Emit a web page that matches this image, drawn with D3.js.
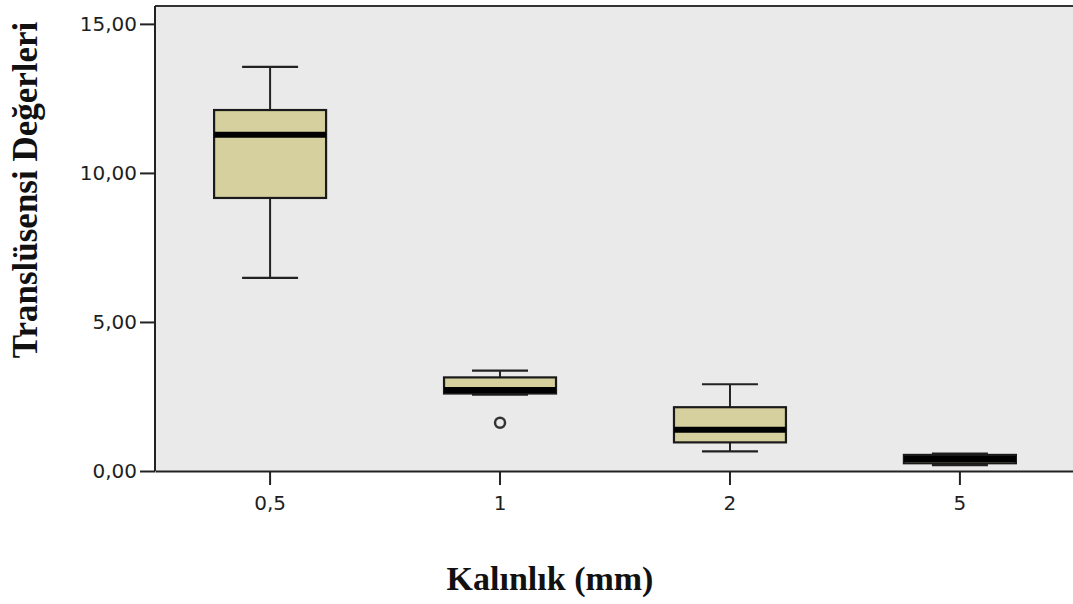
<!DOCTYPE html>
<html lang="tr">
<head>
    <meta charset="UTF-8">
    <title>Kalınlık - Translüsensi</title>
    <style>
        body {
            margin: 0;
            background-color: #ffffff;
            overflow: hidden;
        }
        svg {
            display: block;
        }
        .tick text {
            font-family: "DejaVu Sans", sans-serif;
            font-size: 20px;
            fill: #1e1e1e;
        }
        .axis-title {
            font-family: "Times New Roman", "Liberation Serif", serif;
            font-weight: bold;
            font-size: 34px;
            fill: #111;
        }
    </style>
</head>
<body>
    <svg id="chart" width="1073" height="604"></svg>

    <script src="https://d3js.org/d3.v7.min.js"></script>
    <script>
        // values
        const categories = ["0,5", "1", "2", "5"];
        const whiskerLow = [6.48, 2.56, 0.66, 0.20];
        const q1 = [9.16, 2.60, 0.96, 0.26];
        const median = [11.28, 2.72, 1.38, 0.40];
        const q3 = [12.11, 3.14, 2.14, 0.54];
        const whiskerHigh = [13.56, 3.37, 2.91, 0.58];
        const outliers = [[], [1.62], [], []];
        const yTicks = [0, 5, 10, 15];

        const margin = { top: 6, right: -2, bottom: 133, left: 155 },
              width = 1073 - margin.left - margin.right,
              height = 604 - margin.top - margin.bottom;

        const svg = d3.select("#chart")
            .append("g")
            .attr("transform", `translate(${margin.left},${margin.top})`);

        const x = d3.scaleBand()
            .domain(categories)
            .range([0, width])
            .paddingInner(0.513)
            .paddingOuter(0.257);

        const y = d3.scaleLinear()
            .domain([0, 15.6])
            .range([height, 0]);

        // plot background
        svg.append("rect")
            .attr("width", width)
            .attr("height", height)
            .attr("fill", "#eaeaea");

        // top frame line
        svg.append("line")
            .attr("x1", 0).attr("x2", width)
            .attr("y1", 0).attr("y2", 0)
            .attr("stroke", "#333")
            .attr("stroke-width", 2);

        const boxes = categories.map((c, i) => ({
            cat: c, lo: whiskerLow[i], q1: q1[i], med: median[i], q3: q3[i], hi: whiskerHigh[i], out: outliers[i]
        }));

        const g = svg.selectAll(".box")
            .data(boxes)
            .enter().append("g")
            .attr("class", "box");

        const cx = d => x(d.cat) + x.bandwidth() / 2;
        const capW = x.bandwidth() / 4;

        // whisker stems
        g.append("line")
            .attr("x1", cx).attr("x2", cx)
            .attr("y1", d => y(d.hi)).attr("y2", d => y(d.q3))
            .attr("stroke", "#222").attr("stroke-width", 2);
        g.append("line")
            .attr("x1", cx).attr("x2", cx)
            .attr("y1", d => y(d.q1)).attr("y2", d => y(d.lo))
            .attr("stroke", "#222").attr("stroke-width", 2);

        // whisker caps
        g.append("line")
            .attr("x1", d => cx(d) - capW).attr("x2", d => cx(d) + capW)
            .attr("y1", d => y(d.hi)).attr("y2", d => y(d.hi))
            .attr("stroke", "#222").attr("stroke-width", 2.2);
        g.append("line")
            .attr("x1", d => cx(d) - capW).attr("x2", d => cx(d) + capW)
            .attr("y1", d => y(d.lo)).attr("y2", d => y(d.lo))
            .attr("stroke", "#222").attr("stroke-width", 2.2);

        // boxes
        g.append("rect")
            .attr("x", d => x(d.cat))
            .attr("width", x.bandwidth())
            .attr("y", d => y(d.q3))
            .attr("height", d => y(d.q1) - y(d.q3))
            .attr("fill", "#d5d09e")
            .attr("stroke", "#1a1a1a")
            .attr("stroke-width", 2.2);

        // median
        g.append("line")
            .attr("x1", d => x(d.cat)).attr("x2", d => x(d.cat) + x.bandwidth())
            .attr("y1", d => y(d.med)).attr("y2", d => y(d.med))
            .attr("stroke", "#000").attr("stroke-width", 6);

        // outliers
        g.selectAll(".outlier")
            .data(d => d.out.map(v => ({ cat: d.cat, v: v })))
            .enter().append("circle")
            .attr("class", "outlier")
            .attr("cx", cx)
            .attr("cy", d => y(d.v))
            .attr("r", 5)
            .attr("fill", "none")
            .attr("stroke", "#333")
            .attr("stroke-width", 2.5);

        // axes
        const yAxis = svg.append("g")
            .call(d3.axisLeft(y).tickValues(yTicks).tickSize(15).tickPadding(3)
                .tickFormat(d => d3.format(".2f")(d).replace(".", ",")));
        yAxis.select(".domain").attr("stroke", "#222").attr("stroke-width", 2).attr("d", `M0,0V${height}`);
        yAxis.selectAll(".tick line").attr("stroke", "#222").attr("stroke-width", 2);

        const xAxis = svg.append("g")
            .attr("transform", `translate(0,${height})`)
            .call(d3.axisBottom(x).tickSize(14).tickPadding(11).tickSizeOuter(0));
        xAxis.select(".domain").attr("stroke", "#222").attr("stroke-width", 2);
        xAxis.selectAll(".tick line").attr("stroke", "#222").attr("stroke-width", 2);

        // axis titles
        d3.select("#chart").append("text")
            .attr("class", "axis-title")
            .attr("x", 550)
            .attr("y", 590)
            .attr("text-anchor", "middle")
            .text("Kalınlık (mm)");

        d3.select("#chart").append("text")
            .attr("class", "axis-title")
            .attr("transform", "translate(37,190) rotate(-90)")
            .attr("text-anchor", "middle")
            .style("font-size", "35px")
            .text("Translüsensi Değerleri");
    </script>
</body>
</html>
